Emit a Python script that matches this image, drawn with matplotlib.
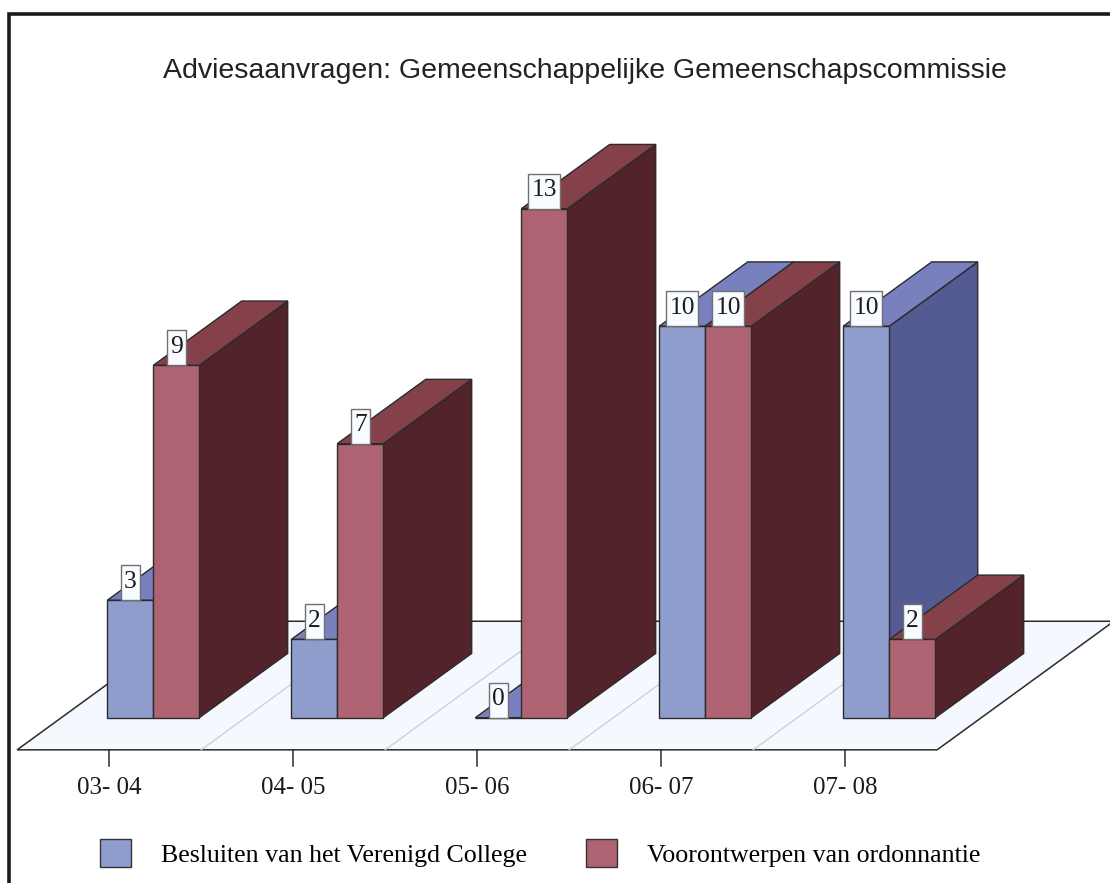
import matplotlib.pyplot as plt
from matplotlib.patches import Polygon, Patch, Rectangle
from matplotlib.lines import Line2D

# data
categories = ["03- 04", "04- 05", "05- 06", "06- 07", "07- 08"]
besluiten = [3, 2, 0, 10, 10]
voorontwerpen = [9, 7, 13, 10, 2]
series_names = ["Besluiten van het Verenigd College", "Voorontwerpen van ordonnantie"]
title = "Adviesaanvragen: Gemeenschappelijke Gemeenschapscommissie"

# colours: front, top, side
blue = ("#8E9DCC", "#7880BE", "#545A92")
red = ("#AD6371", "#84414A", "#52232A")
floor_col = "#F5F9FF"
edge = "#2b2b2b"

W, H = 1110, 883
# page geometry (pixels) used to lay out the axes
x0_px, step_px = 153.3, 184.0
base_px, unit_px = 717.7, 39.15
ddx, ddy = 88.4 / step_px, 64.3 / unit_px   # one unit of depth, in data units
bw = 0.25

fig = plt.figure(figsize=(W / 100, H / 100), dpi=100)
ax = fig.add_axes([0, 0, 1, 1])
ax.set_xlim(-x0_px / step_px, (W - x0_px) / step_px)
ax.set_ylim((base_px - H) / unit_px, base_px / unit_px)
ax.axis("off")


def proj(x, y, d):
    return (x + d * ddx, y + d * ddy)


n = len(categories)

# floor
fl = [proj(-0.5, 0, -0.5), proj(n - 0.5, 0, -0.5), proj(n - 0.5, 0, 1.5), proj(-0.5, 0, 1.5)]
ax.add_patch(Polygon(fl, closed=True, fc=floor_col, ec=edge, lw=1.1, zorder=1))
for i in range(n - 1):
    p, q = proj(i + 0.5, 0, -0.5), proj(i + 0.5, 0, 1.5)
    ax.plot([p[0], q[0]], [p[1], q[1]], color="#cccccc", lw=0.9, zorder=1.5)

# ticks and category labels on the front edge of the floor
for i, cat in enumerate(categories):
    tx, ty = proj(i, 0, -0.5)
    ax.plot([tx, tx], [ty, ty - 16 / unit_px], color=edge, lw=1.1, zorder=1.5)
    ax.text(tx, ty - 27 / unit_px, cat, ha="center", va="top", fontsize=18,
            family="Liberation Serif", color="#1a1a1a")


def bar3d(xl, v, cols, z):
    xr = xl + bw
    side = [proj(xr, 0, 0), proj(xr, 0, 1), proj(xr, v, 1), proj(xr, v, 0)]
    top = [proj(xl, v, 0), proj(xr, v, 0), proj(xr, v, 1), proj(xl, v, 1)]
    front = [(xl, 0), (xr, 0), (xr, v), (xl, v)]
    ax.add_patch(Polygon(side, closed=True, fc=cols[2], ec=edge, lw=1, zorder=z))
    ax.add_patch(Polygon(top, closed=True, fc=cols[1], ec=edge, lw=1, zorder=z))
    ax.add_patch(Polygon(front, closed=True, fc=cols[0], ec=edge, lw=1, zorder=z))


labels = []
for i in range(n):
    for s, (vals, cols) in enumerate([(besluiten, blue), (voorontwerpen, red)]):
        xl = i - bw + s * bw
        bar3d(xl, vals[i], cols, 2 + i * 2 + s)
        labels.append((xl + bw / 2, vals[i]))

# value boxes sitting on the front top edge of each bar
box_h = 35 / unit_px
for x, v in labels:
    txt = str(v)
    bwid = (7 + 12.4 * len(txt)) / step_px
    ax.add_patch(Rectangle((x - bwid / 2, v), bwid, box_h, fc="#F8FBFF", ec="#707070",
                           lw=1, zorder=20))
    ax.text(x, v + 12.4 / unit_px, txt, ha="center", va="baseline", fontsize=18.4,
            family="Liberation Serif", color="#1a1a1a", zorder=21)

# title
fig.text(162.7 / W, 1 - 78.3 / H, title, ha="left", va="baseline", fontsize=20.5,
         family="Liberation Sans", color="#222222")

# legend
handles = [Patch(fc=blue[0], ec="#333333", lw=1), Patch(fc=red[0], ec="#333333", lw=1)]
fig.legend(handles, series_names, loc="center left", bbox_to_anchor=(100 / W, 1 - 853 / H),
           ncol=2, frameon=False, prop={"family": "Liberation Serif", "size": 18.6},
           handlelength=1.2, handleheight=1.24, handletextpad=1.16, columnspacing=2.29,
           borderpad=0, borderaxespad=0)

# page frame
fig.add_artist(Line2D([9.3 / W, 9.3 / W, 1], [0, 1 - 14.3 / H, 1 - 14.3 / H],
                      transform=fig.transFigure, color="#1a1a1a", lw=2.6,
                      solid_joinstyle="miter"))

fig.savefig("out.png", dpi=100)
